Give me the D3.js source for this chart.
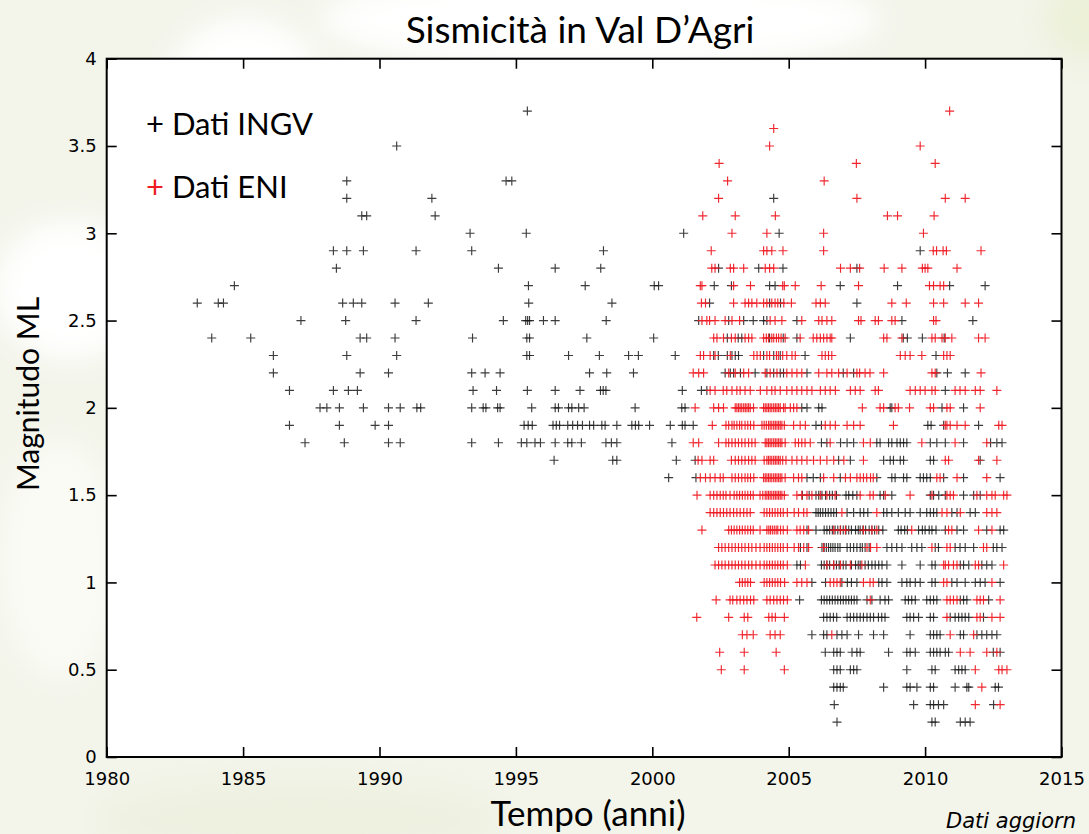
<!DOCTYPE html>
<html>
<head>
<meta charset="utf-8">
<script src="https://cdn.jsdelivr.net/npm/d3@7"></script>
<style>
  html, body { margin: 0; padding: 0; background: #ffffff; overflow: hidden; }
  svg { display: block; }
</style>
</head>
<body>
<svg id="chart" width="1089" height="834"></svg>
<script>
// ---------- DATA ----------
const title = "Sismicità in Val D’Agri";
const xLabel = "Tempo (anni)";
const yLabel = "Magnitudo ML";
const noteText = "Dati aggiorn";
const seriesNames = ["Dati INGV", "Dati ENI"];
const xTicks = [1980, 1985, 1990, 1995, 2000, 2005, 2010, 2015];
const yTicks = [0, 0.5, 1, 1.5, 2, 2.5, 3, 3.5, 4];

// INGV events: [magnitude, [decimal years]]
const ingvRows = [
  [3.7, [1995.42]],
  [3.5, [1990.63]],
  [3.3, [1988.80, 1994.64, 1994.85]],
  [3.2, [1988.80, 1991.92, 2004.45]],
  [3.1, [1989.35, 1989.53, 1992.04]],
  [3.0, [1993.32, 1995.38, 2001.15, 2004.65]],
  [2.9, [1988.31, 1988.80, 1989.41, 1991.34, 1993.38, 1998.21, 2009.82]],
  [2.8, [1988.42, 1994.36, 1996.44, 1998.11, 2002.43, 2003.90, 2004.79, 2007.50]],
  [2.7, [1984.68, 1995.46, 1997.54, 2000.07, 2000.23, 2002.27, 2002.90, 2004.30, 2004.50, 2006.89, 2008.99, 2010.90, 2012.20]],
  [2.6, [1983.32, 1984.09, 1984.28, 1988.65, 1989.04, 1989.35, 1990.57, 1991.79, 1995.47, 1998.52, 2002.10, 2004.30, 2004.70, 2007.50]],
  [2.5, [1987.12, 1988.76, 1991.34, 1994.54, 1995.36, 1995.43, 1995.50, 1996.01, 1996.44, 1998.31, 2001.70, 2002.80, 2003.35, 2003.70, 2004.08, 2004.20, 2005.30, 2009.15, 2011.75]],
  [2.4, [1983.85, 1985.28, 1989.29, 1989.53, 1990.57, 1993.41, 1995.40, 1995.50, 1997.60, 2000.05, 2002.75, 2003.15, 2003.28, 2004.30, 2004.80, 2005.30, 2007.26, 2009.20, 2009.35, 2009.90, 2010.70]],
  [2.3, [1986.11, 1988.80, 1990.63, 1995.40, 1995.50, 1996.93, 1998.06, 1999.13, 1999.49, 2000.84, 2002.25, 2002.42, 2002.75, 2002.92, 2003.04, 2003.16, 2004.08, 2004.45, 2004.69, 2005.60, 2010.40]],
  [2.2, [1986.11, 1989.29, 1990.33, 1993.38, 1993.87, 1994.42, 1997.70, 1998.33, 1999.31, 2002.67, 2002.86, 2002.98, 2003.23, 2003.77, 2004.20, 2004.45, 2004.69, 2004.81, 2005.67, 2007.00, 2007.38, 2010.43, 2010.82, 2011.47]],
  [2.1, [1986.70, 1988.31, 1988.86, 1989.19, 1993.43, 1994.29, 1995.42, 1996.44, 1997.35, 1998.10, 1998.20, 1998.30, 2001.10, 2001.80, 2002.00, 2010.74]],
  [2.0, [1987.82, 1988.07, 1988.53, 1989.41, 1990.33, 1990.76, 1991.37, 1991.51, 1993.38, 1993.80, 1993.90, 1994.33, 1994.42, 1995.58, 1996.44, 1996.56, 1996.93, 1997.05, 1997.30, 1997.50, 1999.37, 2001.08, 2001.20, 2005.48, 2005.67, 2006.10, 2006.22, 2008.72, 2008.78, 2010.62, 2011.41]],
  [1.9, [1986.70, 1988.53, 1989.84, 1990.33, 1995.30, 1995.45, 1995.60, 1996.36, 1996.48, 1996.60, 1996.90, 1997.08, 1997.26, 1997.44, 1997.70, 1997.85, 1998.15, 1998.27, 1998.70, 1999.25, 1999.38, 1999.50, 1999.90, 2000.66, 2001.10, 2001.20, 2001.50, 2006.00, 2006.20, 2010.10, 2010.22, 2010.68, 2011.96]],
  [1.8, [1987.27, 1988.71, 1990.33, 1990.76, 1993.38, 1994.36, 1995.20, 1995.40, 1995.70, 1995.90, 1996.44, 1996.90, 1997.05, 1997.40, 1998.30, 1998.50, 1998.70, 2000.72, 2006.20, 2006.40, 2006.90, 2007.14, 2007.38, 2008.23, 2008.35, 2008.66, 2008.78, 2008.97, 2009.09, 2009.21, 2009.33, 2010.19, 2010.43, 2010.74, 2011.41, 2012.40, 2012.63, 2012.82]],
  [1.7, [1996.40, 1998.55, 1998.70, 2000.88, 2001.57, 2006.83, 2007.26, 2008.48, 2008.72, 2008.84, 2009.09, 2009.21, 2010.19, 2010.31, 2012.02]],
  [1.6, [2000.60, 2001.60, 2005.67, 2005.90, 2006.16, 2006.89, 2008.23, 2008.78, 2008.90, 2009.21, 2009.33, 2009.82, 2009.94, 2010.06, 2010.19, 2010.68, 2011.41, 2012.75]],
  [1.5, [2005.50, 2005.75, 2006.00, 2006.10, 2006.22, 2006.35, 2006.50, 2006.60, 2006.75, 2007.10, 2007.20, 2007.35, 2007.50, 2008.35, 2008.48, 2008.78, 2010.19, 2010.31, 2010.50, 2010.74, 2011.41, 2011.78, 2012.02]],
  [1.4, [2006.00, 2006.08, 2006.16, 2006.25, 2006.35, 2006.45, 2006.55, 2006.65, 2006.75, 2007.14, 2007.38, 2007.62, 2007.75, 2007.90, 2008.48, 2008.60, 2008.78, 2009.02, 2009.27, 2009.45, 2009.82, 2010.06, 2010.19, 2010.31, 2010.43, 2010.98, 2011.17, 2011.65, 2011.84]],
  [1.3, [2005.67, 2006.00, 2006.30, 2006.40, 2006.50, 2006.60, 2006.70, 2006.80, 2006.90, 2007.00, 2007.10, 2007.20, 2007.30, 2007.45, 2007.55, 2007.62, 2007.72, 2007.82, 2007.95, 2008.05, 2008.15, 2008.30, 2008.45, 2009.02, 2009.12, 2009.25, 2009.35, 2009.76, 2009.90, 2010.00, 2010.15, 2010.25, 2010.40, 2010.74, 2011.17, 2011.41, 2012.26, 2012.75, 2012.88]],
  [1.2, [2005.43, 2005.67, 2006.22, 2006.30, 2006.38, 2006.46, 2006.54, 2006.62, 2006.70, 2006.80, 2006.88, 2007.14, 2007.26, 2007.38, 2007.50, 2007.62, 2007.70, 2007.80, 2007.95, 2008.60, 2008.78, 2008.96, 2009.15, 2009.51, 2009.70, 2009.88, 2010.37, 2010.49, 2011.10, 2011.28, 2011.47, 2011.78, 2012.50, 2012.63, 2012.82]],
  [1.1, [2005.30, 2005.43, 2006.20, 2006.30, 2006.40, 2006.50, 2006.65, 2006.75, 2006.85, 2007.00, 2007.10, 2007.30, 2007.45, 2007.55, 2007.62, 2007.80, 2007.92, 2008.05, 2008.17, 2008.30, 2008.42, 2008.60, 2009.15, 2009.82, 2010.25, 2010.37, 2011.29, 2011.41, 2011.60, 2012.08, 2012.26, 2012.45]],
  [1.0, [2005.85, 2006.35, 2006.95, 2007.15, 2007.30, 2007.50, 2008.30, 2008.42, 2008.60, 2009.15, 2009.33, 2009.45, 2009.64, 2009.82, 2010.25, 2010.37, 2010.98, 2011.17, 2011.47, 2011.84, 2012.02, 2012.20, 2012.75]],
  [0.9, [2005.40, 2006.20, 2006.30, 2006.40, 2006.50, 2006.60, 2006.70, 2006.80, 2006.90, 2007.00, 2007.10, 2007.20, 2007.30, 2007.40, 2007.50, 2007.87, 2008.05, 2008.35, 2008.53, 2008.66, 2009.27, 2009.39, 2009.51, 2009.64, 2010.06, 2010.19, 2010.31, 2010.43, 2011.29, 2011.41, 2011.53, 2012.33]],
  [0.8, [2006.28, 2006.40, 2006.52, 2006.64, 2006.76, 2007.14, 2007.26, 2007.38, 2007.50, 2007.62, 2007.74, 2007.87, 2007.99, 2008.11, 2008.29, 2008.41, 2008.53, 2009.33, 2009.45, 2009.58, 2009.76, 2010.19, 2010.31, 2010.92, 2011.10, 2011.23, 2011.35, 2011.47, 2011.60, 2012.14]],
  [0.7, [2005.85, 2006.28, 2006.40, 2006.77, 2006.95, 2007.14, 2007.56, 2008.11, 2008.48, 2009.45, 2010.19, 2010.31, 2010.43, 2010.55, 2011.29, 2011.41, 2011.90, 2012.08, 2012.26, 2012.45, 2012.63]],
  [0.6, [2006.34, 2006.65, 2006.77, 2006.89, 2007.32, 2007.50, 2007.62, 2008.66, 2009.33, 2009.45, 2009.64, 2010.19, 2010.31, 2010.43, 2010.55, 2010.74, 2010.86, 2012.50, 2012.75]],
  [0.5, [2006.65, 2006.77, 2006.89, 2007.26, 2007.38, 2007.50, 2009.33, 2010.25, 2010.37, 2011.10, 2011.23, 2011.35, 2011.47]],
  [0.4, [2006.65, 2006.77, 2006.89, 2007.00, 2008.48, 2009.33, 2009.45, 2009.70, 2010.19, 2010.31, 2011.10, 2011.53, 2011.60, 2012.57, 2012.69]],
  [0.3, [2006.67, 2009.58, 2010.19, 2010.31, 2010.49, 2010.68, 2012.51]],
  [0.2, [2006.77, 2010.25, 2010.37, 2011.29, 2011.47, 2011.65]]
];

// ENI events: [magnitude, [decimal years]]
const eniRows = [
  [3.7, [2010.90]],
  [3.6, [2004.45]],
  [3.5, [2004.30, 2009.82]],
  [3.4, [2002.45, 2007.48, 2010.37]],
  [3.3, [2002.76, 2006.30]],
  [3.2, [2002.43, 2007.50, 2010.74, 2011.47]],
  [3.1, [2001.85, 2003.04, 2004.51, 2008.62, 2008.99, 2010.33]],
  [3.0, [2002.92, 2004.20, 2006.28, 2009.94]],
  [2.9, [2002.16, 2004.08, 2004.20, 2004.38, 2004.79, 2006.28, 2010.30, 2010.42, 2010.66, 2010.78, 2012.05]],
  [2.8, [2002.18, 2002.30, 2002.86, 2002.98, 2003.35, 2004.14, 2004.30, 2004.45, 2006.90, 2007.26, 2007.60, 2008.50, 2009.15, 2009.90, 2010.00, 2010.10, 2011.17]],
  [2.7, [2001.76, 2001.82, 2002.98, 2003.60, 2004.78, 2004.84, 2005.24, 2006.19, 2007.56, 2010.16, 2010.31, 2010.55, 2010.68]],
  [2.6, [2001.80, 2001.95, 2002.98, 2003.40, 2003.53, 2003.65, 2003.83, 2004.08, 2004.20, 2004.38, 2004.50, 2004.60, 2004.82, 2005.10, 2006.00, 2006.16, 2006.34, 2008.78, 2009.31, 2010.31, 2010.68, 2011.47, 2011.96]],
  [2.5, [2001.82, 2002.00, 2002.10, 2002.30, 2002.67, 2002.92, 2003.20, 2004.32, 2004.50, 2004.75, 2005.48, 2006.10, 2006.22, 2006.40, 2006.58, 2007.56, 2007.65, 2008.17, 2008.29, 2008.78, 2008.90, 2010.31, 2010.40]],
  [2.4, [2002.25, 2002.37, 2002.61, 2002.90, 2003.04, 2003.40, 2003.53, 2003.65, 2004.08, 2004.18, 2004.26, 2004.38, 2004.45, 2004.55, 2004.63, 2004.72, 2004.87, 2005.42, 2005.90, 2006.03, 2006.16, 2006.28, 2006.40, 2006.52, 2006.58, 2008.48, 2008.60, 2009.15, 2010.25, 2010.37, 2010.62, 2010.74, 2010.98, 2011.96, 2012.20]],
  [2.3, [2001.76, 2001.88, 2002.12, 2002.30, 2002.86, 2003.72, 2003.84, 2003.96, 2004.20, 2004.30, 2004.55, 2004.62, 2004.78, 2004.93, 2005.12, 2005.24, 2006.22, 2006.34, 2006.46, 2006.58, 2009.09, 2009.27, 2009.45, 2009.88, 2010.68, 2010.80, 2010.92]],
  [2.2, [2001.50, 2001.70, 2001.88, 2002.80, 2003.04, 2003.35, 2003.53, 2004.14, 2004.32, 2004.57, 2004.93, 2005.12, 2005.30, 2005.48, 2006.10, 2006.40, 2006.58, 2006.83, 2007.14, 2007.50, 2007.60, 2007.80, 2007.98, 2008.48, 2010.25, 2010.37, 2012.05]],
  [2.1, [2002.12, 2002.30, 2002.60, 2002.73, 2002.92, 2003.10, 2003.22, 2003.40, 2003.59, 2003.96, 2004.20, 2004.38, 2004.50, 2004.69, 2004.93, 2005.12, 2005.30, 2005.48, 2005.67, 2005.85, 2006.16, 2006.34, 2006.52, 2006.71, 2007.26, 2007.44, 2007.62, 2008.17, 2008.29, 2009.45, 2009.64, 2009.82, 2010.00, 2010.25, 2010.37, 2011.10, 2011.28, 2011.47, 2011.84, 2012.02, 2012.63]],
  [2.0, [2001.57, 2002.25, 2002.43, 2002.61, 2003.04, 2003.10, 2003.16, 2003.22, 2003.28, 2003.35, 2003.41, 2003.47, 2003.53, 2003.59, 2003.71, 2004.08, 2004.14, 2004.20, 2004.26, 2004.32, 2004.38, 2004.45, 2004.51, 2004.57, 2004.63, 2004.69, 2004.81, 2004.87, 2005.06, 2005.18, 2005.30, 2007.70, 2008.35, 2008.48, 2008.90, 2009.02, 2009.43, 2010.19, 2010.31, 2010.80, 2010.92, 2012.02]],
  [1.9, [2002.20, 2002.70, 2002.80, 2002.92, 2003.00, 2003.10, 2003.20, 2003.28, 2003.40, 2003.50, 2003.60, 2003.72, 2004.02, 2004.10, 2004.18, 2004.26, 2004.32, 2004.38, 2004.45, 2004.51, 2004.57, 2004.63, 2004.69, 2004.75, 2004.84, 2005.18, 2005.42, 2005.61, 2006.34, 2006.52, 2006.71, 2007.14, 2007.38, 2007.62, 2008.84, 2010.74, 2010.80, 2010.92, 2011.17, 2011.47, 2012.70, 2012.82]],
  [1.8, [2001.50, 2001.70, 2002.43, 2002.70, 2002.80, 2002.92, 2003.04, 2003.16, 2003.28, 2003.40, 2003.53, 2003.65, 2003.77, 2004.14, 2004.20, 2004.26, 2004.32, 2004.38, 2004.45, 2004.51, 2004.57, 2004.63, 2004.69, 2004.75, 2004.87, 2005.24, 2005.36, 2005.48, 2005.60, 2005.79, 2006.52, 2007.74, 2007.99, 2009.88, 2011.10, 2012.26]],
  [1.7, [2001.68, 2001.82, 2002.12, 2002.25, 2002.90, 2003.04, 2003.16, 2003.28, 2003.40, 2003.53, 2003.65, 2003.77, 2004.10, 2004.20, 2004.26, 2004.32, 2004.38, 2004.45, 2004.51, 2004.57, 2004.63, 2004.69, 2004.78, 2004.90, 2005.12, 2005.30, 2005.48, 2005.67, 2005.91, 2006.16, 2006.40, 2006.65, 2007.02, 2007.74, 2010.74, 2010.86, 2011.96, 2012.63]],
  [1.6, [2001.76, 2001.95, 2002.12, 2002.30, 2002.49, 2002.60, 2002.92, 2003.04, 2003.16, 2003.28, 2003.40, 2003.50, 2003.60, 2003.72, 2004.08, 2004.14, 2004.20, 2004.26, 2004.32, 2004.38, 2004.45, 2004.51, 2004.57, 2004.63, 2004.69, 2004.75, 2004.87, 2005.18, 2005.36, 2005.48, 2006.28, 2006.65, 2007.08, 2007.26, 2007.50, 2007.62, 2007.74, 2007.86, 2008.00, 2008.10, 2010.43, 2010.55, 2011.17, 2012.26]],
  [1.5, [2001.64, 2002.12, 2002.25, 2002.37, 2002.49, 2002.60, 2002.70, 2002.85, 2003.00, 2003.10, 2003.20, 2003.30, 2003.40, 2003.50, 2003.60, 2003.70, 2003.95, 2004.05, 2004.14, 2004.20, 2004.26, 2004.32, 2004.38, 2004.45, 2004.51, 2004.57, 2004.63, 2004.69, 2004.75, 2004.84, 2005.30, 2005.48, 2005.67, 2005.85, 2006.16, 2006.40, 2006.70, 2007.62, 2007.98, 2008.10, 2008.54, 2009.45, 2010.25, 2010.80, 2010.92, 2011.04, 2011.90, 2012.26, 2012.45, 2012.57, 2012.88, 2013.00]],
  [1.4, [2002.12, 2002.25, 2002.37, 2002.49, 2002.61, 2002.73, 2002.85, 2002.98, 2003.10, 2003.22, 2003.35, 2003.47, 2003.59, 2004.10, 2004.20, 2004.30, 2004.40, 2004.50, 2004.60, 2004.70, 2004.80, 2004.95, 2005.20, 2005.36, 2005.55, 2005.67, 2006.95, 2008.23, 2010.62, 2010.80, 2011.29, 2012.26, 2012.45, 2012.63]],
  [1.3, [2001.82, 2002.80, 2002.90, 2003.00, 2003.10, 2003.20, 2003.30, 2003.40, 2003.50, 2003.60, 2003.70, 2003.95, 2004.20, 2004.27, 2004.33, 2004.40, 2004.47, 2004.54, 2004.60, 2004.70, 2004.80, 2004.95, 2005.30, 2005.42, 2005.55, 2005.73, 2006.65, 2006.89, 2007.08, 2007.74, 2008.05, 2008.23, 2009.51, 2010.86, 2010.98, 2011.96, 2012.45]],
  [1.2, [2002.43, 2002.55, 2002.67, 2002.80, 2002.92, 2003.04, 2003.16, 2003.28, 2003.40, 2003.53, 2003.65, 2003.80, 2003.95, 2004.10, 2004.20, 2004.30, 2004.40, 2004.50, 2004.60, 2004.70, 2004.80, 2004.95, 2005.20, 2005.36, 2005.55, 2005.73, 2006.28, 2007.87, 2008.00, 2008.23, 2010.25, 2010.80, 2010.92, 2012.14, 2012.26]],
  [1.1, [2002.30, 2002.43, 2002.55, 2002.67, 2002.80, 2002.92, 2003.04, 2003.16, 2003.28, 2003.40, 2003.53, 2003.65, 2003.80, 2003.95, 2004.10, 2004.20, 2004.30, 2004.40, 2004.50, 2004.60, 2004.70, 2004.80, 2004.95, 2005.61, 2006.40, 2006.65, 2006.90, 2007.26, 2007.68, 2010.68, 2010.74, 2010.86, 2011.04, 2011.17, 2011.84, 2011.96, 2012.88]],
  [1.0, [2003.20, 2003.30, 2003.40, 2003.50, 2003.60, 2004.10, 2004.20, 2004.30, 2004.40, 2004.50, 2004.60, 2004.70, 2004.85, 2005.30, 2005.48, 2005.67, 2006.52, 2006.65, 2006.77, 2006.89, 2007.74, 2007.98, 2008.10, 2010.68, 2010.80, 2012.45]],
  [0.9, [2002.34, 2002.85, 2002.95, 2003.10, 2003.22, 2003.35, 2003.47, 2003.60, 2003.72, 2004.20, 2004.32, 2004.45, 2004.57, 2004.69, 2004.81, 2004.95, 2007.99, 2010.80, 2010.92, 2011.04, 2011.17, 2011.90, 2012.02, 2012.14, 2012.75]],
  [0.8, [2001.63, 2002.80, 2003.37, 2003.50, 2004.27, 2004.39, 2004.51, 2004.84, 2010.80, 2011.90, 2012.02, 2012.45, 2012.75]],
  [0.7, [2003.30, 2003.47, 2003.70, 2004.32, 2004.50, 2004.69, 2006.58, 2010.92, 2011.78]],
  [0.6, [2002.47, 2003.37, 2004.54, 2011.29, 2011.65, 2012.26, 2012.63]],
  [0.5, [2002.53, 2003.37, 2004.84, 2011.84, 2012.70, 2012.82, 2013.00]],
  [0.4, [2012.08]],
  [0.3, [2011.84, 2012.75]]
];

// ---------- CHART ----------
const W = 1089, H = 834;
const plot = { left: 106.7, right: 1061.5, top: 58.7, bottom: 757 };
const svg = d3.select("#chart");

// faint slide background (watermark-like)
const defs = svg.append("defs");
defs.append("filter").attr("id", "soft").attr("x", "-50%").attr("y", "-50%").attr("width", "200%").attr("height", "200%")
  .append("feGaussianBlur").attr("stdDeviation", 14);
svg.append("rect").attr("width", W).attr("height", H).attr("fill", "#f3f4ea");
const bg = svg.append("g").attr("filter", "url(#soft)");
bg.append("ellipse").attr("cx", 245).attr("cy", 95).attr("rx", 80).attr("ry", 78).attr("fill", "#ffffff");
bg.append("ellipse").attr("cx", 70).attr("cy", 290).attr("rx", 75).attr("ry", 70).attr("fill", "#ffffff");
bg.append("ellipse").attr("cx", 600).attr("cy", 20).attr("rx", 280).attr("ry", 50).attr("fill", "#ffffff");
bg.append("ellipse").attr("cx", 60).attr("cy", 560).attr("rx", 60).attr("ry", 120).attr("fill", "#fafbf5");
bg.append("ellipse").attr("cx", 300).attr("cy", 820).attr("rx", 200).attr("ry", 40).attr("fill", "#eef1e0");
bg.append("ellipse").attr("cx", 1085).attr("cy", 20).attr("rx", 40).attr("ry", 40).attr("fill", "#ecf1d8");

// plot area
svg.append("rect")
  .attr("x", plot.left).attr("y", plot.top)
  .attr("width", plot.right - plot.left).attr("height", plot.bottom - plot.top)
  .attr("fill", "#ffffff");

const x = d3.scaleLinear().domain([1980, 2015]).range([plot.left, plot.right]);
const y = d3.scaleLinear().domain([0, 4]).range([plot.bottom, plot.top]);

const tickFont = "'DejaVu Sans', sans-serif";
const fmt = d => String(d);

function styleAxis(g, showLabels) {
  g.select(".domain").remove();
  g.selectAll(".tick line").attr("stroke", "#000").attr("stroke-width", 1.6);
  g.selectAll(".tick text")
    .attr("fill", "#000")
    .style("font-family", tickFont)
    .style("font-size", "18px");
  if (!showLabels) g.selectAll(".tick text").remove();
}

svg.append("g").attr("transform", `translate(${plot.left},0)`)
  .call(d3.axisLeft(y).tickValues(yTicks).tickFormat(fmt).tickSize(-10).tickPadding(10))
  .call(g => styleAxis(g, true));
svg.append("g").attr("transform", `translate(${plot.right},0)`)
  .call(d3.axisRight(y).tickValues(yTicks).tickSize(-10))
  .call(g => styleAxis(g, false));
svg.append("g").attr("transform", `translate(0,${plot.bottom})`)
  .call(d3.axisBottom(x).tickValues(xTicks).tickFormat(fmt).tickSize(-10).tickPadding(15))
  .call(g => styleAxis(g, true));
svg.append("g").attr("transform", `translate(0,${plot.top})`)
  .call(d3.axisTop(x).tickValues(xTicks).tickSize(-10))
  .call(g => styleAxis(g, false));

// points
function flatten(rows) {
  const out = [];
  rows.forEach(([m, years]) => years.forEach(yr => out.push({ year: yr, mag: m })));
  return out;
}
const plusPath = "M-4.5,0H4.5M0,-4.5V4.5";
const colors = ["#1a1a1a", "#ee1c25"];

[ingvRows, eniRows].forEach((rows, i) => {
  svg.append("g")
    .selectAll("path")
    .data(flatten(rows))
    .join("path")
    .attr("d", plusPath)
    .attr("transform", d => `translate(${x(d.year)},${y(d.mag)})`)
    .attr("fill", "none")
    .attr("stroke", colors[i])
    .attr("stroke-width", 1.15)
    .attr("stroke-opacity", i === 0 ? 0.85 : 0.95);
});

// frame
svg.append("rect")
  .attr("x", plot.left).attr("y", plot.top)
  .attr("width", plot.right - plot.left).attr("height", plot.bottom - plot.top)
  .attr("fill", "none").attr("stroke", "#000").attr("stroke-width", 2);

// legend
const legFont = "Lato, 'Open Sans', sans-serif";
seriesNames.forEach((name, i) => {
  const t = svg.append("text")
    .attr("x", 146).attr("y", 135 + i * 63)
    .style("font-family", legFont).style("font-size", "31px");
  t.append("tspan").attr("fill", i === 0 ? "#000" : colors[i]).text("+");
  t.append("tspan").attr("fill", "#000").text(" " + name);
});

// titles
svg.append("text")
  .attr("x", 580).attr("y", 43)
  .attr("text-anchor", "middle")
  .style("font-family", legFont).style("font-size", "37px")
  .attr("fill", "#000")
  .text(title);

svg.append("text")
  .attr("x", 588).attr("y", 826)
  .attr("text-anchor", "middle")
  .style("font-family", legFont).style("font-size", "35px")
  .attr("fill", "#000")
  .text(xLabel);

svg.append("text")
  .attr("transform", `translate(39,394) rotate(-90)`)
  .attr("text-anchor", "middle")
  .style("font-family", legFont).style("font-size", "30px")
  .attr("fill", "#000")
  .text(yLabel);

svg.append("text")
  .attr("x", 946).attr("y", 828)
  .style("font-family", "'DejaVu Sans', sans-serif")
  .style("font-size", "21px").style("font-style", "italic")
  .attr("fill", "#000")
  .text(noteText);
</script>
</body>
</html>
